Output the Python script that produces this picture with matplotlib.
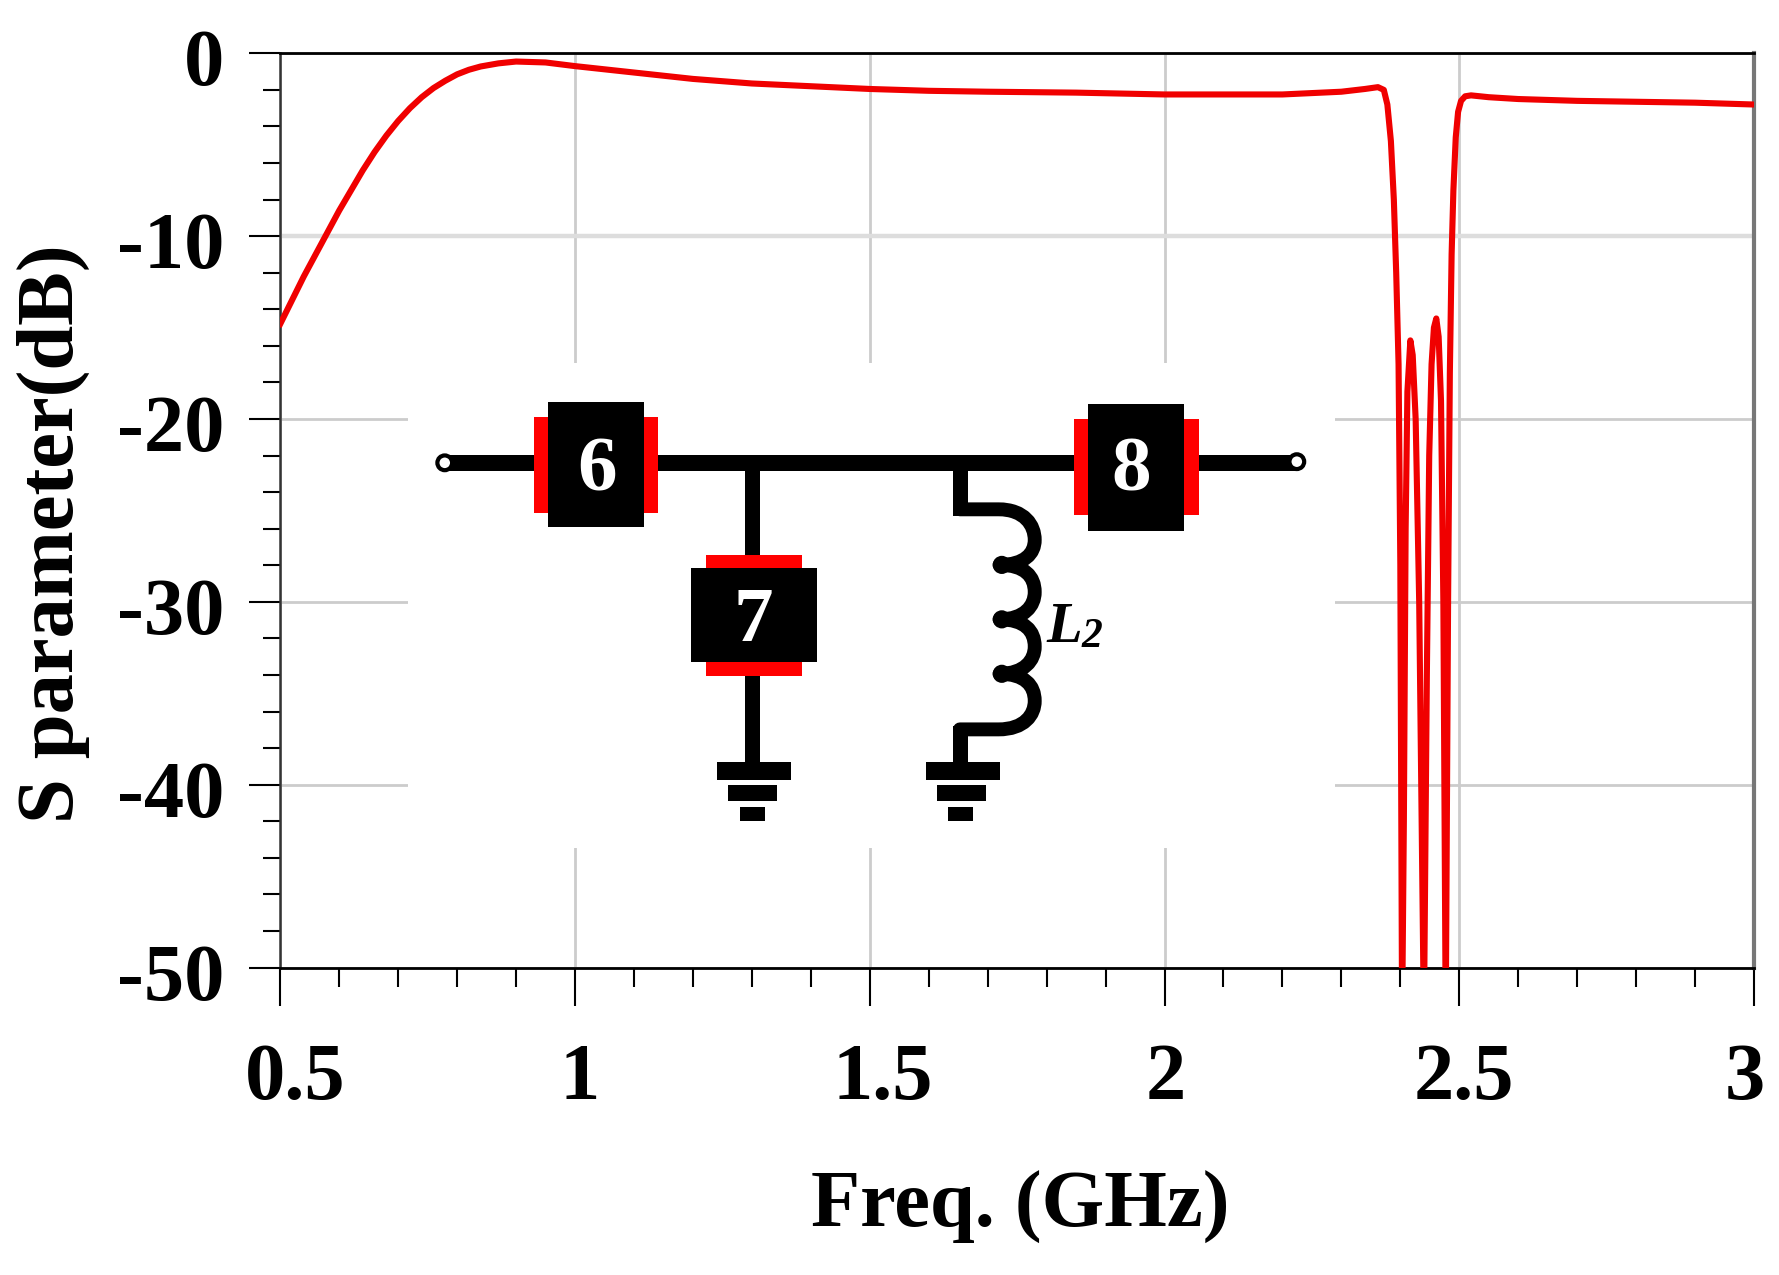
import matplotlib
matplotlib.use('Agg')
import matplotlib.pyplot as plt
from matplotlib.patches import Rectangle, Circle, PathPatch
from matplotlib.path import Path
from matplotlib.transforms import ScaledTranslation

plt.rcParams['font.family'] = ['Liberation Serif', 'DejaVu Serif']

# curve
freq = [0.5, 0.52, 0.54, 0.56, 0.58, 0.6, 0.62, 0.64, 0.66, 0.68, 0.7, 0.72, 0.74, 0.76, 0.78, 0.8, 0.82, 0.84, 0.87, 0.9, 0.95,
        1.0, 1.1, 1.2, 1.3, 1.4, 1.5, 1.6, 1.7, 1.85, 2.0, 2.2, 2.3, 2.34, 2.362,
        2.372, 2.378, 2.384, 2.389, 2.393, 2.397, 2.4, 2.403, 2.406, 2.409, 2.412,
        2.417, 2.421, 2.426, 2.432, 2.44, 2.445, 2.449, 2.453, 2.457, 2.461, 2.465,
        2.469, 2.473, 2.477, 2.481, 2.484, 2.487, 2.49, 2.494, 2.498, 2.503, 2.51,
        2.52, 2.55, 2.6, 2.7, 2.8, 2.9, 3.0]
s21 = [-14.8, -13.5, -12.2, -11.0, -9.8, -8.6, -7.5, -6.4, -5.4, -4.5, -3.7, -3.0, -2.4, -1.9, -1.5, -1.15, -0.9, -0.72, -0.55, -0.45, -0.5,
       -0.7, -1.05, -1.4, -1.65, -1.8, -1.95, -2.05, -2.1, -2.15, -2.25, -2.25, -2.1, -1.95, -1.85,
       -2.0, -2.8, -4.8, -8.0, -12.0, -17.0, -28.0, -53.0, -42.0, -26.0, -18.5,
       -15.7, -16.5, -20.0, -30.0, -53.0, -34.0, -22.0, -17.0, -15.0, -14.5, -15.5,
       -19.0, -30.0, -53.0, -30.0, -17.5, -11.0, -7.5, -4.6, -3.2, -2.6, -2.35,
       -2.3, -2.4, -2.5, -2.6, -2.65, -2.7, -2.8]

x_ticks = [0.5, 1, 1.5, 2, 2.5, 3]
x_tick_labels = ['0.5', '1', '1.5', '2', '2.5', '3']
x_minor = [0.6, 0.7, 0.8, 0.9, 1.1, 1.2, 1.3, 1.4, 1.6, 1.7, 1.8, 1.9, 2.1, 2.2, 2.3, 2.4, 2.6, 2.7, 2.8, 2.9]
y_ticks = [0, -10, -20, -30, -40, -50]
y_tick_labels = ['0', '-10', '-20', '-30', '-40', '-50']
y_minor = [-2, -4, -6, -8, -12, -14, -16, -18, -22, -24, -26, -28, -32, -34, -36, -38, -42, -44, -46, -48]

W, H = 1568.0, 1124.0  # layout is measured in this picture size
fig = plt.figure(figsize=(17.79, 12.75), dpi=100)
ax = fig.add_axes([247 / W, 1 - 853 / H, 1299 / W, 806 / H])

ax.plot(freq, s21, color='#f00000', lw=4.4, solid_joinstyle='round', zorder=3)
ax.set_xlim(0.5, 3)
ax.set_ylim(-50, 0)

ax.set_xticks(x_ticks)
ax.set_xticklabels(x_tick_labels, fontsize=58, fontweight='bold')
ax.set_xticks(x_minor, minor=True)
ax.set_yticks(y_ticks)
ax.set_yticklabels(y_tick_labels, fontsize=58, fontweight='bold')
ax.set_yticks(y_minor, minor=True)
ax.tick_params(axis='x', which='major', length=27, width=1.5, pad=27)
ax.tick_params(axis='x', which='minor', length=14, width=1.5)
ax.tick_params(axis='y', which='major', length=22, width=1.5, pad=18)
ax.tick_params(axis='y', which='minor', length=12, width=1.5)

ax.grid(True, which='major', color='#cccccc', lw=2.0, zorder=1)
ax.set_axisbelow(True)
ax.yaxis.get_gridlines()[1].set_color('#dddddd')
ax.yaxis.get_gridlines()[1].set_linewidth(3.2)

# labels are not centred on the ticks in the original
x_shift = [11, 3, 9, 1, 3, -7]
for lab, dx in zip(ax.get_xticklabels(), x_shift):
    lab.set_transform(lab.get_transform() + ScaledTranslation(dx / 72, 0, fig.dpi_scale_trans))
for lab in ax.get_yticklabels():
    lab.set_transform(lab.get_transform() + ScaledTranslation(0, -3 / 72, fig.dpi_scale_trans))

ax.set_xlabel('Freq. (GHz)', fontsize=58, fontweight='bold', va='center')
ax.xaxis.set_label_coords(0.502, -0.262)
ax.set_ylabel('S parameter(dB)', fontsize=58, fontweight='bold', va='center')
ax.yaxis.set_label_coords(-0.154, 0.475)

ax.spines['top'].set_color('black')
ax.spines['top'].set_linewidth(2)
ax.spines['bottom'].set_linewidth(2)
ax.spines['left'].set_color('#333333')
ax.spines['left'].set_linewidth(1.8)
ax.spines['right'].set_color('#777777')
ax.spines['right'].set_linewidth(3)

# circuit inset, on a second axes in picture units
inset = fig.add_axes([0, 0, 1, 1], zorder=5)
inset.set_xlim(0, W)
inset.set_ylim(H, 0)
inset.axis('off')
inset.patch.set_alpha(0)


def box(x0, x1, y0, y1, color, z=3):
    inset.add_patch(Rectangle((x0, y0), x1 - x0, y1 - y0, fc=color, ec='none', zorder=z))


def ground(xc):
    box(xc - 32, xc + 33, 672, 688, 'black')
    box(xc - 22, xc + 21, 692, 706, 'black')
    box(xc - 12, xc + 10, 711, 724, 'black')


box(360, 1177, 320, 748, 'white', z=0)

# wires
box(392, 1143, 401, 415, 'black', z=1)
box(657, 670, 408, 675, 'black', z=1)
box(840, 853, 408, 455, 'black', z=1)
box(840, 853, 640, 675, 'black', z=1)

# resonators
box(471, 580, 368, 452, '#ff0000', z=2)
box(483, 568, 354, 465, 'black')
box(947, 1057, 369, 454, '#ff0000', z=2)
box(959, 1044, 356, 468, 'black')
box(622, 707, 489, 596, '#ff0000', z=2)
box(609, 720, 501, 584, 'black')

for xc, yc in [(392, 408), (1143, 407)]:
    inset.add_patch(Circle((xc, yc), 6.5, fc='white', ec='black', lw=3, zorder=4))

for label, xc, yc in [('6', 526, 409), ('7', 664, 541), ('8', 997, 409)]:
    inset.text(xc, yc, label, color='white', fontsize=57, fontweight='bold', ha='center', va='center_baseline', zorder=6)

ground(664)
ground(848)

# inductor
verts = [(846, 449), (880, 449), (903, 449), (912, 463), (912, 476), (912, 488), (903, 498), (881, 498),
         (903, 498), (912, 508), (912, 522), (912, 534), (903, 546), (881, 546),
         (903, 546), (912, 556), (912, 570), (912, 582), (903, 594), (881, 594),
         (903, 594), (912, 604), (912, 618), (912, 630), (903, 643), (880, 643), (846, 643)]
codes = [Path.MOVETO, Path.LINETO] + [Path.CURVE4] * 24 + [Path.LINETO]
inset.add_patch(PathPatch(Path(verts, codes), fc='none', ec='black', lw=10, capstyle='round', joinstyle='round', zorder=3))
for yc in [498, 546, 594]:
    inset.add_patch(Circle((883, yc), 8, fc='black', ec='none', zorder=3))

inset.text(922, 566, 'L', fontsize=42, fontweight='bold', style='italic', ha='left', va='baseline', zorder=6)
inset.text(953, 570, '2', fontsize=30, fontweight='bold', style='italic', ha='left', va='baseline', zorder=6)

fig.savefig('out.png', dpi=100, facecolor='white')
